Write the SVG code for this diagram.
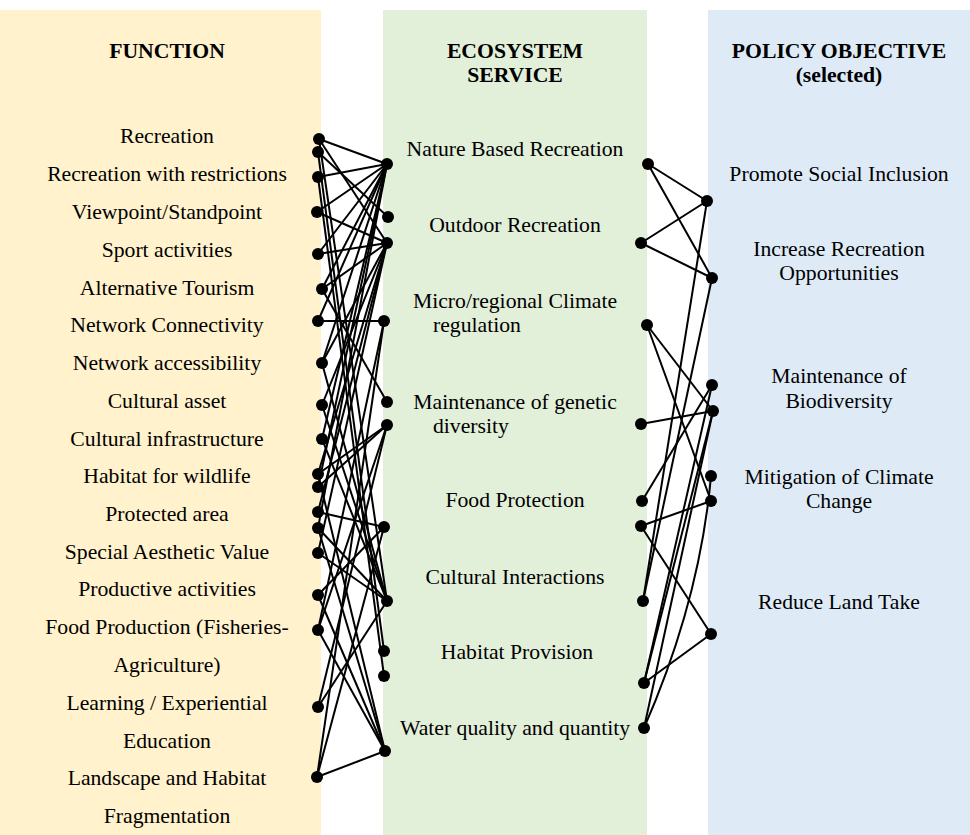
<svg xmlns="http://www.w3.org/2000/svg" width="970" height="835" viewBox="0 0 970 835">
  <style>
    text { font-family: "Liberation Serif", "Times New Roman", serif; font-size: 21.7px; fill: #000; }
    .c { text-anchor: middle; }
    .h { font-weight: bold; }
    .ln { stroke: #000; stroke-width: 2; fill: none; }
    .dot { fill: #000; }
  </style>
  <defs>
    <circle id="d" r="6" class="dot"/>
  </defs>

  <!-- column backgrounds -->
  <g id="panels">
    <rect x="0" y="10" width="321" height="825" fill="#FFF2CC"/>
    <rect x="383" y="10" width="264" height="825" fill="#E2EFD9"/>
    <rect x="708" y="10" width="262" height="825" fill="#DEEBF7"/>
  </g>

  <!-- column headings -->
  <g id="headings" class="h">
    <text class="c h" x="167" y="58">FUNCTION</text>
    <text class="c h" x="515" y="58">ECOSYSTEM</text>
    <text class="c h" x="515" y="82">SERVICE</text>
    <text class="c h" x="839" y="58">POLICY OBJECTIVE</text>
    <text class="c h" x="839" y="82">(selected)</text>
  </g>

  <!-- functions -->
  <g id="functions">
    <g id="f-recreation"><text class="c" x="167" y="143">Recreation</text></g>
    <g id="f-recreation-restr"><text class="c" x="167" y="181">Recreation with restrictions</text></g>
    <g id="f-viewpoint"><text class="c" x="167" y="219">Viewpoint/Standpoint</text></g>
    <g id="f-sport"><text class="c" x="167" y="257">Sport activities</text></g>
    <g id="f-alt-tourism"><text class="c" x="167" y="295">Alternative Tourism</text></g>
    <g id="f-net-conn"><text class="c" x="167" y="332">Network Connectivity</text></g>
    <g id="f-net-access"><text class="c" x="167" y="370">Network accessibility</text></g>
    <g id="f-cult-asset"><text class="c" x="167" y="408">Cultural asset</text></g>
    <g id="f-cult-infra"><text class="c" x="167" y="446">Cultural infrastructure</text></g>
    <g id="f-habitat"><text class="c" x="167" y="483">Habitat for wildlife</text></g>
    <g id="f-protected"><text class="c" x="167" y="521">Protected area</text></g>
    <g id="f-aesthetic"><text class="c" x="167" y="559">Special Aesthetic Value</text></g>
    <g id="f-productive"><text class="c" x="167" y="596">Productive activities</text></g>
    <g id="f-food">
      <text class="c" x="167" y="634">Food Production (Fisheries-</text>
      <text class="c" x="167" y="672">Agriculture)</text>
    </g>
    <g id="f-learning">
      <text class="c" x="167" y="710">Learning / Experiential</text>
      <text class="c" x="167" y="748">Education</text>
    </g>
    <g id="f-fragmentation">
      <text class="c" x="167" y="785">Landscape and Habitat</text>
      <text class="c" x="167" y="823">Fragmentation</text>
    </g>
  </g>

  <!-- ecosystem services -->
  <g id="services">
    <g id="s-nature-rec"><text class="c" x="515" y="156">Nature Based Recreation</text></g>
    <g id="s-outdoor-rec"><text class="c" x="515" y="232">Outdoor Recreation</text></g>
    <g id="s-climate">
      <text class="c" x="515" y="308">Micro/regional Climate</text>
      <text x="433" y="332">regulation</text>
    </g>
    <g id="s-genetic">
      <text class="c" x="515" y="409">Maintenance of genetic</text>
      <text x="433" y="433">diversity</text>
    </g>
    <g id="s-food"><text class="c" x="515" y="507">Food Protection</text></g>
    <g id="s-cultural"><text class="c" x="515" y="584">Cultural Interactions</text></g>
    <g id="s-habitat"><text class="c" x="517" y="659">Habitat Provision</text></g>
    <g id="s-water"><text class="c" x="515" y="735">Water quality and quantity</text></g>
  </g>

  <!-- policy objectives -->
  <g id="policies">
    <g id="p-inclusion"><text class="c" x="839" y="181">Promote Social Inclusion</text></g>
    <g id="p-recreation">
      <text class="c" x="839" y="256">Increase Recreation</text>
      <text class="c" x="839" y="280">Opportunities</text>
    </g>
    <g id="p-biodiversity">
      <text class="c" x="839" y="383">Maintenance of</text>
      <text class="c" x="839" y="408">Biodiversity</text>
    </g>
    <g id="p-climate">
      <text class="c" x="839" y="484">Mitigation of Climate</text>
      <text class="c" x="839" y="508">Change</text>
    </g>
    <g id="p-landtake"><text class="c" x="839" y="609">Reduce Land Take</text></g>
  </g>

  <!-- connectors: function to service -->
  <g id="connectors" class="ln">
    <line x1="319" y1="139" x2="387" y2="164"/>
    <line x1="319" y1="139" x2="387" y2="243"/>
    <line x1="319" y1="139" x2="387" y2="601"/>
    <line x1="318" y1="152" x2="388" y2="217"/>
    <line x1="318" y1="152" x2="384" y2="651"/>
    <line x1="318" y1="177" x2="387" y2="164"/>
    <line x1="318" y1="177" x2="384" y2="676"/>
    <line x1="317" y1="212" x2="387" y2="164"/>
    <line x1="317" y1="212" x2="387" y2="243"/>
    <line x1="318" y1="254" x2="387" y2="164"/>
    <line x1="318" y1="254" x2="387" y2="243"/>
    <line x1="322" y1="289" x2="387" y2="164"/>
    <line x1="322" y1="289" x2="387" y2="243"/>
    <line x1="322" y1="289" x2="387" y2="402"/>
    <line x1="318" y1="321" x2="384" y2="321"/>
    <line x1="318" y1="321" x2="387" y2="164"/>
    <line x1="322" y1="363" x2="387" y2="164"/>
    <line x1="322" y1="363" x2="387" y2="243"/>
    <line x1="322" y1="363" x2="387" y2="601"/>
    <line x1="322" y1="405" x2="387" y2="243"/>
    <line x1="322" y1="405" x2="387" y2="601"/>
    <line x1="322" y1="439" x2="387" y2="164"/>
    <line x1="322" y1="439" x2="387" y2="601"/>
    <line x1="318" y1="474" x2="387" y2="425"/>
    <line x1="318" y1="474" x2="385" y2="751"/>
    <line x1="318" y1="474" x2="387" y2="243"/>
    <line x1="318" y1="487" x2="387" y2="164"/>
    <line x1="318" y1="487" x2="387" y2="425"/>
    <line x1="318" y1="512" x2="384" y2="527"/>
    <line x1="318" y1="512" x2="387" y2="243"/>
    <line x1="318" y1="528" x2="387" y2="164"/>
    <line x1="318" y1="528" x2="387" y2="601"/>
    <line x1="318" y1="528" x2="385" y2="751"/>
    <line x1="318" y1="553" x2="387" y2="601"/>
    <line x1="318" y1="553" x2="387" y2="243"/>
    <line x1="318" y1="595" x2="384" y2="527"/>
    <line x1="318" y1="595" x2="385" y2="751"/>
    <line x1="318" y1="630" x2="384" y2="321"/>
    <line x1="318" y1="630" x2="385" y2="751"/>
    <line x1="318" y1="630" x2="387" y2="425"/>
    <line x1="318" y1="707" x2="387" y2="601"/>
    <line x1="318" y1="707" x2="387" y2="425"/>
    <line x1="317" y1="777" x2="385" y2="751"/>
    <line x1="317" y1="777" x2="384" y2="321"/>
    <line x1="317" y1="777" x2="384" y2="527"/>

    <!-- service to policy objective -->
    <line x1="648" y1="164" x2="707" y2="201"/>
    <line x1="648" y1="164" x2="712" y2="278"/>
    <line x1="641" y1="243" x2="707" y2="201"/>
    <line x1="641" y1="243" x2="712" y2="278"/>
    <line x1="707" y1="201" x2="643" y2="601"/>
    <line x1="712" y1="278" x2="643" y2="601"/>
    <line x1="647" y1="325" x2="713" y2="411"/>
    <line x1="647" y1="325" x2="711" y2="501"/>
    <line x1="641" y1="424" x2="713" y2="411"/>
    <line x1="642" y1="501" x2="712" y2="385"/>
    <line x1="641" y1="526" x2="711" y2="501"/>
    <line x1="641" y1="526" x2="711" y2="634"/>
    <line x1="644" y1="683" x2="711" y2="634"/>
    <line x1="712" y1="385" x2="644" y2="683"/>
    <line x1="713" y1="411" x2="644" y2="683"/>
    <line x1="713" y1="411" x2="644" y2="728"/>
    <path d="M711,476 Q700,600 644,728"/>
  </g>

  <!-- link end points -->
  <g id="endpoints">
    <use href="#d" x="319" y="139"/><use href="#d" x="318" y="152"/><use href="#d" x="318" y="177"/>
    <use href="#d" x="317" y="212"/><use href="#d" x="318" y="254"/><use href="#d" x="322" y="289"/>
    <use href="#d" x="318" y="321"/><use href="#d" x="322" y="363"/><use href="#d" x="322" y="405"/>
    <use href="#d" x="322" y="439"/><use href="#d" x="318" y="474"/><use href="#d" x="318" y="487"/>
    <use href="#d" x="318" y="512"/><use href="#d" x="318" y="528"/><use href="#d" x="318" y="553"/>
    <use href="#d" x="318" y="595"/><use href="#d" x="318" y="630"/><use href="#d" x="318" y="707"/>
    <use href="#d" x="317" y="777"/>

    <use href="#d" x="387" y="164"/><use href="#d" x="388" y="217"/><use href="#d" x="387" y="243"/>
    <use href="#d" x="384" y="321"/><use href="#d" x="387" y="402"/><use href="#d" x="387" y="425"/>
    <use href="#d" x="384" y="527"/><use href="#d" x="387" y="601"/><use href="#d" x="384" y="651"/>
    <use href="#d" x="384" y="676"/><use href="#d" x="385" y="751"/>

    <use href="#d" x="648" y="164"/><use href="#d" x="641" y="243"/><use href="#d" x="647" y="325"/>
    <use href="#d" x="641" y="424"/><use href="#d" x="642" y="501"/><use href="#d" x="641" y="526"/>
    <use href="#d" x="643" y="601"/><use href="#d" x="644" y="683"/><use href="#d" x="644" y="728"/>

    <use href="#d" x="707" y="201"/><use href="#d" x="712" y="278"/><use href="#d" x="712" y="385"/>
    <use href="#d" x="713" y="411"/><use href="#d" x="711" y="476"/><use href="#d" x="711" y="501"/>
    <use href="#d" x="711" y="634"/>
  </g>
</svg>
